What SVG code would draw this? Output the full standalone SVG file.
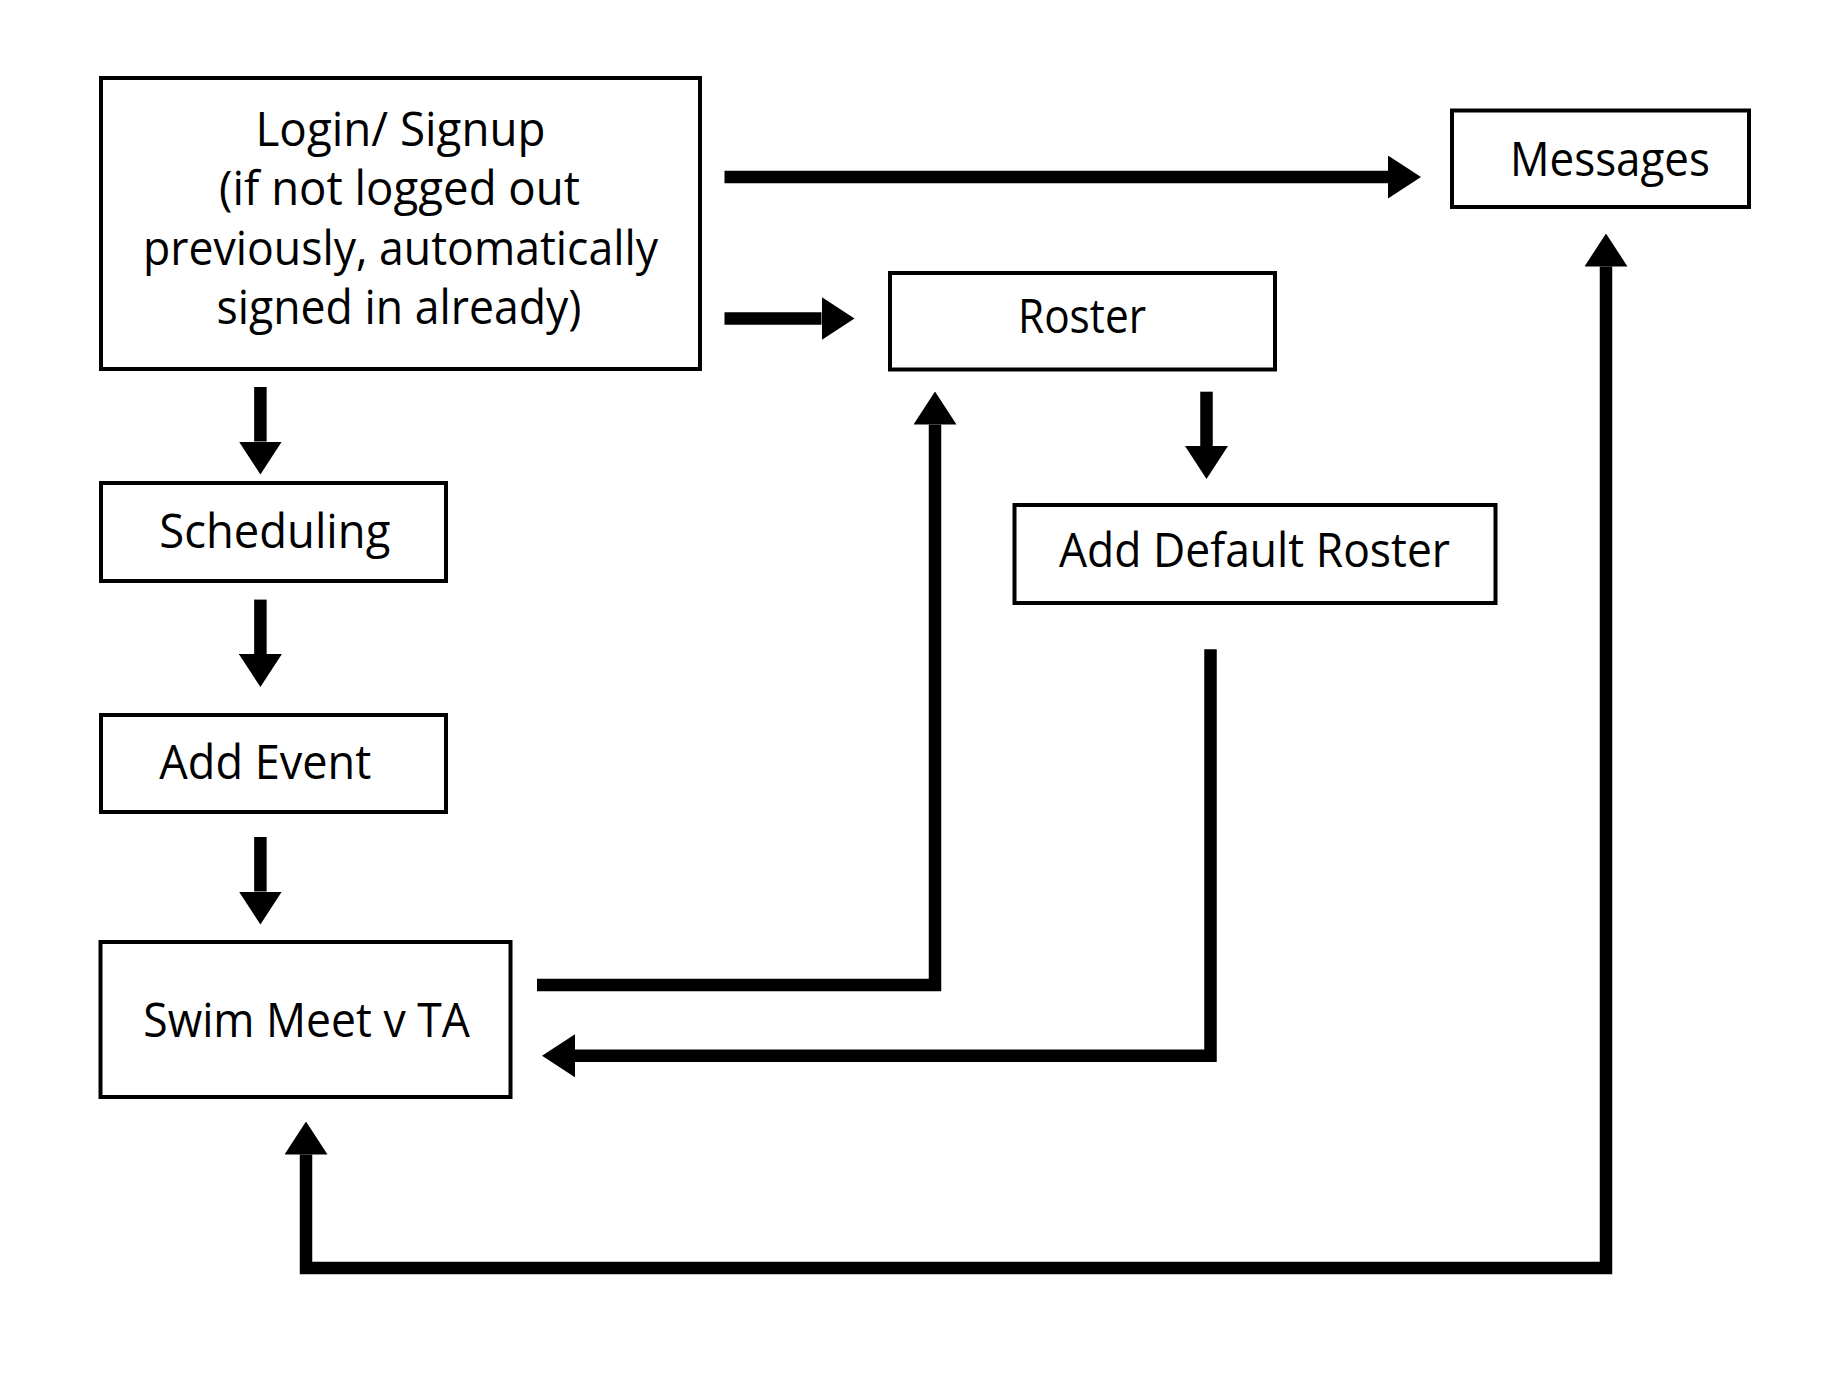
<svg xmlns="http://www.w3.org/2000/svg" width="1823" height="1375" viewBox="0 0 1823 1375">
<style>
.box{fill:#fff;stroke:#000;stroke-width:4}
.lbl{font-family:"Open Sans","Noto Sans","Liberation Sans",sans-serif;font-size:47px;fill:#000}
.conn{fill:none;stroke:#000;stroke-width:12.5;stroke-linejoin:miter;stroke-linecap:butt}
</style>
<defs>
<marker id="ah" viewBox="0 0 33 43" refX="0" refY="21.5" markerWidth="33" markerHeight="43" markerUnits="userSpaceOnUse" orient="auto-start-reverse">
<path d="M0,0 L33,21.5 L0,43 Z" fill="#000"/>
</marker>
</defs>
<rect width="1823" height="1375" fill="#fff"/>
<g id="connectors">
<path class="conn" d="M724.5,177 H1388" marker-end="url(#ah)"/>
<path class="conn" d="M724.5,318.5 H821.5" marker-end="url(#ah)"/>
<path class="conn" d="M260.4,387 V441.5" marker-end="url(#ah)"/>
<path class="conn" d="M260.4,599.6 V654" marker-end="url(#ah)"/>
<path class="conn" d="M260.4,837 V891.5" marker-end="url(#ah)"/>
<path class="conn" d="M1206.5,391.7 V446" marker-end="url(#ah)"/>
<path class="conn" d="M537,985 H935 V424.5" marker-end="url(#ah)"/>
<path class="conn" d="M1210.5,649.3 V1055.8 H575" marker-end="url(#ah)"/>
<path class="conn" d="M306,1154.5 V1268 H1606 V266.5" marker-start="url(#ah)" marker-end="url(#ah)"/>
</g>
<g id="login">
<rect class="box" x="101" y="78" width="599" height="291"/>
<text class="lbl" x="255.5" y="146" textLength="290" lengthAdjust="spacingAndGlyphs">Login/ Signup</text>
<text class="lbl" x="219" y="205" textLength="361" lengthAdjust="spacingAndGlyphs">(if not logged out</text>
<text class="lbl" x="143" y="264.5" textLength="515" lengthAdjust="spacingAndGlyphs">previously, automatically</text>
<text class="lbl" x="216.5" y="323.5" textLength="365" lengthAdjust="spacingAndGlyphs">signed in already)</text>
</g>
<g id="messages">
<rect class="box" x="1452" y="110.5" width="297" height="96.5"/>
<text class="lbl" x="1510" y="176" textLength="200" lengthAdjust="spacingAndGlyphs">Messages</text>
</g>
<g id="roster">
<rect class="box" x="890" y="273" width="385" height="96.5"/>
<text class="lbl" x="1018" y="333" textLength="128" lengthAdjust="spacingAndGlyphs">Roster</text>
</g>
<g id="scheduling">
<rect class="box" x="101" y="483" width="345" height="98"/>
<text class="lbl" x="159.3" y="548" textLength="231" lengthAdjust="spacingAndGlyphs">Scheduling</text>
</g>
<g id="add-default-roster">
<rect class="box" x="1014.5" y="505" width="481" height="98"/>
<text class="lbl" x="1059" y="566.7" textLength="391" lengthAdjust="spacingAndGlyphs">Add Default Roster</text>
</g>
<g id="add-event">
<rect class="box" x="101" y="715" width="345" height="97"/>
<text class="lbl" x="159.3" y="779.3" textLength="212" lengthAdjust="spacingAndGlyphs">Add Event</text>
</g>
<g id="swim-meet">
<rect class="box" x="100.5" y="942" width="410" height="155"/>
<text class="lbl" x="143.3" y="1036.7" textLength="326.5" lengthAdjust="spacingAndGlyphs">Swim Meet v TA</text>
</g>
</svg>
